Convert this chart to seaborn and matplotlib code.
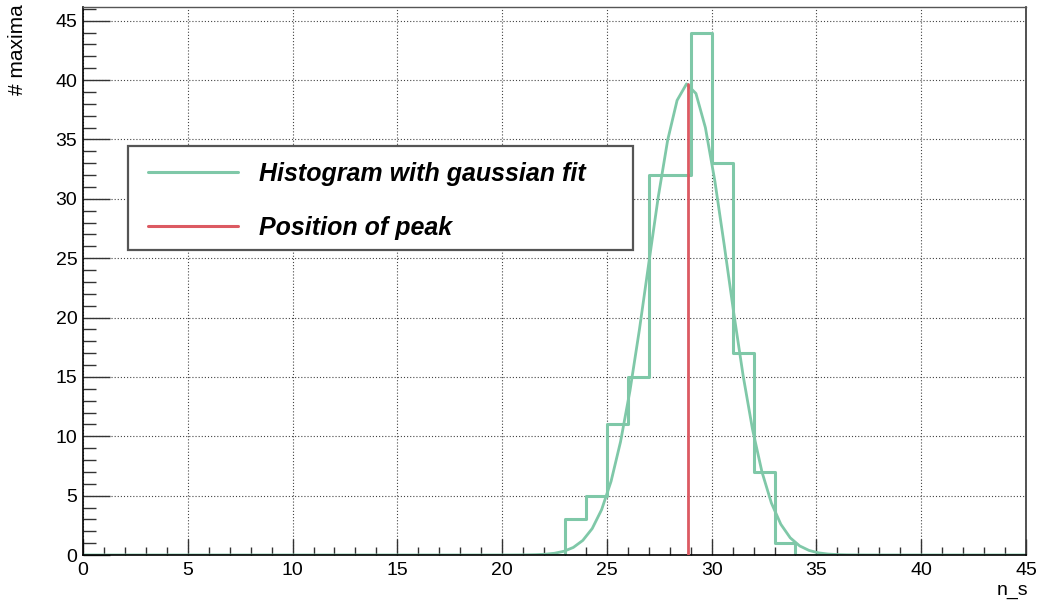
import numpy as np
import pandas as pd
import seaborn as sns
import matplotlib
matplotlib.use("Agg")
import matplotlib.pyplot as plt
from matplotlib.lines import Line2D
from matplotlib.patches import Rectangle
from matplotlib.ticker import MultipleLocator

# Histogram of maxima per n_s bin (unit-width bins)
bin_start = 23
counts = [3, 5, 11, 15, 32, 32, 44, 33, 17, 7, 1]
x_range = (0, 45)

# Gaussian fit parameters
fit_amplitude = 39.7
fit_mean = 28.86
fit_sigma = 1.9

legend_labels = ["Histogram with gaussian fit", "Position of peak"]
x_label = "n_s"
y_label = "# maxima"

GREEN = "#7fc8a8"
RED = "#dc5a62"

sns.set_theme(style="white")
plt.rcParams["font.family"] = ["Liberation Sans", "DejaVu Sans"]
plt.rcParams["text.color"] = "black"

W, H = 1043, 603
fig = plt.figure(figsize=(W / 100, H / 100), dpi=100)
ax = fig.add_axes([83 / W, 1 - 555 / H, (1026 - 83) / W, (555 - 6.5) / H])

# Full-range histogram table: empty bins outside the filled region
n_bins = x_range[1] - x_range[0]
centers = np.arange(x_range[0], x_range[1]) + 0.5
weights = np.zeros(n_bins)
weights[bin_start:bin_start + len(counts)] = counts
hist_df = pd.DataFrame({"n_s": centers, "count": weights})

sns.histplot(data=hist_df, x="n_s", weights="count", bins=n_bins, binrange=x_range,
             element="step", fill=False, color=GREEN, linewidth=2.2, ax=ax)

# Fitted gaussian, sampled like a 100-point function
xs = np.linspace(x_range[0], x_range[1], 101)
fit_df = pd.DataFrame({"n_s": xs,
                       "fit": fit_amplitude * np.exp(-0.5 * ((xs - fit_mean) / fit_sigma) ** 2)})
sns.lineplot(data=fit_df, x="n_s", y="fit", color=GREEN, linewidth=2.0, ax=ax)

# Peak position marker
ax.plot([fit_mean, fit_mean], [0, fit_amplitude], color=RED, linewidth=2.0, zorder=4)

ax.set_xlim(*x_range)
ax.set_ylim(0, max(counts) * 1.05)
ax.set_xlabel("")
ax.set_ylabel("")

ax.xaxis.set_major_locator(MultipleLocator(5))
ax.xaxis.set_minor_locator(MultipleLocator(1))
ax.yaxis.set_major_locator(MultipleLocator(5))
ax.yaxis.set_minor_locator(MultipleLocator(1))

ax.grid(True, which="major", color="#444444", linestyle=(0, (1, 1.8)), linewidth=0.8)
ax.tick_params(axis="both", which="both", direction="in", colors="#333333",
               labelcolor="black", labelsize=14, top=False, right=False,
               bottom=True, left=True)
ax.tick_params(axis="y", which="major", length=19.5, width=1.0, pad=4)
ax.tick_params(axis="y", which="minor", length=9.5, width=1.0)
ax.tick_params(axis="x", which="major", length=11.5, width=1.0, pad=5)
ax.tick_params(axis="x", which="minor", length=5.8, width=1.0)

for side, sp in ax.spines.items():
    sp.set_visible(True)
    sp.set_color("black")
    sp.set_linewidth(1.2)
ax.spines["top"].set_color("#555555")
ax.spines["top"].set_linewidth(1.0)
ax.spines["right"].set_color("#333333")

# Axis titles in the corners
fig.text(18 / W, 1 - 4 / H, y_label, rotation=90, ha="center", va="top", fontsize=15)
fig.text(1028 / W, 1 - 582 / H, x_label, ha="right", va="top", fontsize=14)

# Legend with a framed box
handles = [Line2D([], [], color=GREEN, linewidth=2.2),
           Line2D([], [], color=RED, linewidth=2.2)]
leg = fig.legend(handles, legend_labels, loc="center left",
                 bbox_to_anchor=(148 / W, 1 - 201 / H), frameon=False,
                 prop={"size": 18, "weight": "bold", "style": "italic"},
                 handlelength=3.6, handletextpad=0.85, borderpad=0,
                 borderaxespad=0, labelspacing=1.2)
for t in leg.get_texts():
    t.set_color("black")
fig.patches.append(Rectangle((128 / W, 1 - 250 / H), (633 - 128) / W, (250 - 146) / H,
                             transform=fig.transFigure, fill=True, facecolor="white",
                             edgecolor="#555555", linewidth=1.6, zorder=2))
leg.set_zorder(5)

fig.savefig("out.png", dpi=100)
